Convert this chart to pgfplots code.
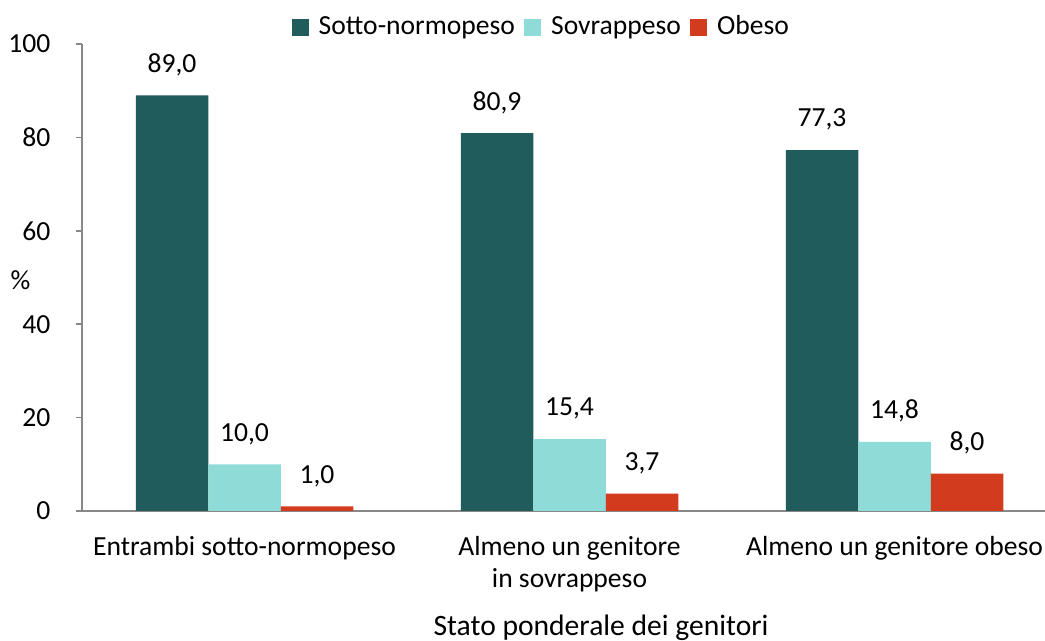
\documentclass[border=0pt]{standalone}
\usepackage{pgfplots}
\pgfplotsset{compat=1.18}
\usepackage{fontspec}
\setmainfont{Carlito}
\definecolor{cDark}{HTML}{1F5C5B}
\definecolor{cLight}{HTML}{8EDBD8}
\definecolor{cRed}{HTML}{D33B1E}
\definecolor{cAxis}{HTML}{888888}
\newcommand{\fs}{\fontsize{13.8}{17}\selectfont}
\begin{document}
\fs
\begin{tikzpicture}
\path[use as bounding box] (-41pt,-65pt) rectangle (481.5pt,255.5pt);
\begin{axis}[
  at={(0pt,0pt)}, anchor=south west,
  scale only axis,
  width=481.5pt, height=233.5pt,
  xmin=-0.5, xmax=2.463,
  ymin=0, ymax=100,
  ybar=0pt, bar width=36.25pt,
  axis lines=left,
  axis line style={-, draw=cAxis, line width=0.75pt},
  every tick/.style={draw=cAxis, line width=0.75pt},
  tick align=outside,
  major tick length=3pt,
  ytick={0,20,40,60,80,100},
  xtick={0,1,2},
  xticklabels={Entrambi sotto-normopeso, {Almeno un genitore\\in sovrappeso}, Almeno un genitore obeso},
  x tick style={draw=none},
  extra x ticks={-0.5,0.5,1.5},
  extra x tick labels={},
  extra x tick style={major tick length=4.5pt, tick style={draw=cAxis, line width=0.75pt}},
  xticklabel style={align=center, yshift=-5pt, font=\fontsize{13.8}{16}\selectfont},
  yticklabel style={xshift=-8pt},
  /pgf/number format/assume math mode=true,
  tick label style={font=\fs},
  nodes near coords,
  nodes near coords style={font=\fs, yshift=5pt, /pgf/number format/use comma, /pgf/number format/fixed, /pgf/number format/fixed zerofill, /pgf/number format/precision=1},
  xlabel={Stato ponderale dei genitori},
  xlabel style={at={(axis description cs:0.539,-0.25)}, anchor=center, font=\fontsize{14.8}{17}\selectfont},
  ylabel={\%},
  ylabel style={at={(axis description cs:-0.064,0.495)}, anchor=center, rotate=-90},
  legend style={at={(axis description cs:0.478,1.036)}, anchor=center, draw=none, fill=none, legend columns=-1, font=\fs,
    /tikz/every even column/.append style={column sep=2.5pt},
    /tikz/every odd column/.append style={column sep=3pt}},
  legend image code/.code={\fill[#1] (0pt,-4.25pt) rectangle (8.5pt,4.25pt);},
]
\addplot[fill=cDark, draw=none] coordinates {(0,89.0) (1,80.9) (2,77.3)};
\addplot[fill=cLight, draw=none] coordinates {(0,10.0) (1,15.4) (2,14.8)};
\addplot[fill=cRed, draw=none] coordinates {(0,1.0) (1,3.7) (2,8.0)};
\legend{Sotto-normopeso, Sovrappeso, Obeso}
\end{axis}
\end{tikzpicture}
\end{document}
